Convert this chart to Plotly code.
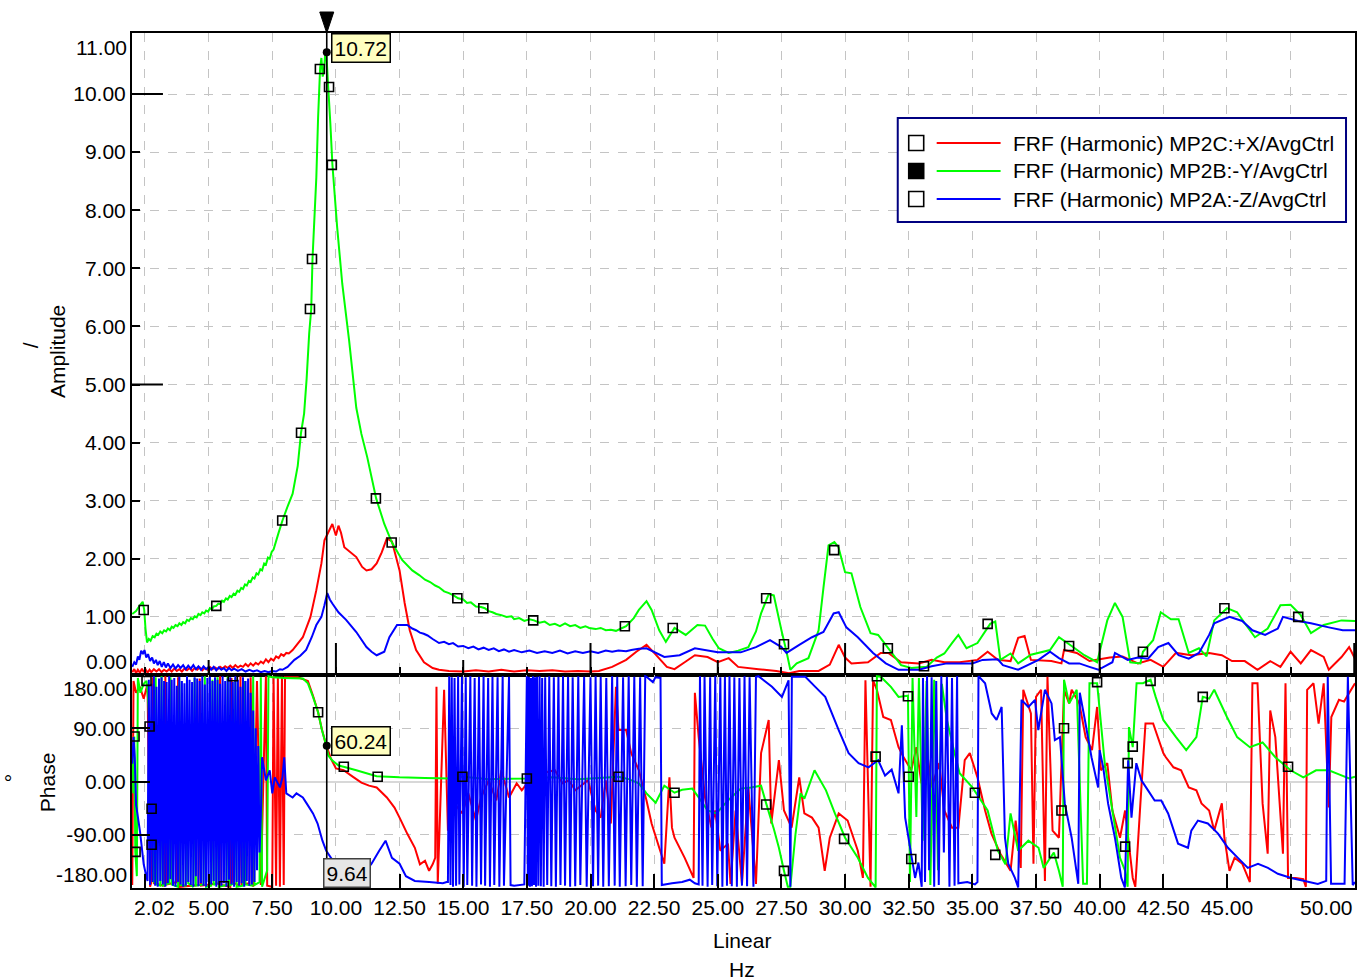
import plotly.graph_objects as go

FONT = "Liberation Sans, Arial, sans-serif"
FS = 21
RED, GREEN, BLUE = "#FF0000", "#00FF00", "#0000FF"

# ---------------- amplitude data (Hz, amplitude) ----------------
green_amp = [(2.00,1.05),(2.15,1.10),(2.30,1.20),(2.41,1.26),(2.47,1.12),(2.52,0.80),(2.58,0.56),
    (2.65,0.62),(2.72,0.59),(2.80,0.67),(2.88,0.65),(2.95,0.71),(3.02,0.69),(3.10,0.75),(3.18,0.72),(3.25,0.77),
    (3.33,0.75),(3.40,0.80),(3.48,0.77),(3.55,0.83),(3.62,0.81),(3.70,0.86),(3.78,0.84),(3.85,0.89),(3.93,0.86),
    (4.00,0.91),(4.08,0.89),(4.15,0.95),(4.23,0.93),(4.30,0.98),(4.38,0.96),(4.45,1.01),(4.53,0.99),(4.60,1.05),
    (4.68,1.03),(4.75,1.08),(4.83,1.06),(4.90,1.11),(4.98,1.09),(5.05,1.15),(5.13,1.13),(5.20,1.18),(5.30,1.19),
    (5.38,1.23),(5.45,1.22),(5.53,1.28),(5.60,1.26),(5.68,1.32),(5.75,1.30),(5.83,1.36),(5.90,1.34),(5.98,1.40),
    (6.05,1.38),(6.13,1.45),(6.20,1.43),(6.28,1.50),(6.35,1.48),(6.43,1.56),(6.50,1.54),(6.58,1.62),(6.65,1.60),
    (6.73,1.68),(6.80,1.66),(6.88,1.75),(6.95,1.73),(7.03,1.82),(7.10,1.80),(7.18,1.92),(7.25,1.90),(7.33,2.02),
    (7.40,2.00),(7.48,2.12),(7.55,2.16),(7.75,2.45),(7.90,2.66),(8.10,2.90),(8.30,3.12),(8.50,3.60),(8.63,4.17),
    (8.75,4.50),(8.85,5.10),(8.95,5.88),(9.03,6.30),(9.08,7.16),(9.23,8.56),(9.30,9.60),(9.38,10.45),(9.43,10.62),
    (9.48,10.30),(9.53,10.40),(9.58,10.70),(9.62,10.72),(9.70,10.10),(9.78,9.50),(9.86,8.80),(10.05,7.70),
    (10.25,6.73),(10.52,5.75),(10.80,4.60),(11.00,4.15),(11.23,3.75),(11.58,3.04),(11.90,2.60),(12.20,2.28),
    (12.60,1.98),(13.00,1.80),(13.27,1.72),(13.50,1.64),(13.70,1.60),(13.90,1.54),(14.05,1.51),(14.25,1.44),
    (14.44,1.41),(14.62,1.37),(14.80,1.32),(15.00,1.30),(15.15,1.24),(15.30,1.25),(15.50,1.18),(15.70,1.17),
    (15.85,1.15),(16.00,1.10),(16.15,1.08),(16.30,1.05),(16.50,1.03),(16.70,1.00),(16.90,1.01),(17.00,0.96),
    (17.20,0.98),(17.40,0.93),(17.60,0.96),(17.78,0.94),(18.00,0.90),(18.20,0.92),(18.40,0.86),(18.60,0.88),
    (18.80,0.84),(19.00,0.89),(19.20,0.84),(19.40,0.86),(19.60,0.81),(19.80,0.84),(19.95,0.81),(20.20,0.79),
    (20.40,0.81),(20.60,0.77),(20.80,0.78),(21.00,0.76),(21.20,0.80),(21.40,0.84),(21.70,0.98),(21.90,1.12),
    (22.20,1.27),(22.40,1.12),(22.70,0.77),(22.96,0.57),(23.30,0.81),(23.74,0.69),(24.20,0.86),(24.50,0.85),
    (24.80,0.62),(25.04,0.46),(25.43,0.38),(25.80,0.42),(26.20,0.48),(26.50,0.75),(26.70,1.06),(27.00,1.39),
    (27.20,1.37),(27.50,0.77),(27.70,0.40),(27.85,0.09),(28.10,0.20),(28.56,0.29),(28.96,0.77),(29.15,1.50),
    (29.35,2.23),(29.58,2.29),(29.74,2.20),(30.00,1.77),(30.25,1.75),(30.60,1.17),(31.00,0.72),(31.30,0.69),
    (31.70,0.46),(32.20,0.17),(32.60,0.12),(33.20,0.14),(33.60,0.30),(33.90,0.37),(34.20,0.55),(34.45,0.69),
    (34.77,0.46),(35.20,0.55),(35.70,0.88),(35.90,0.92),(36.10,0.26),(36.50,0.37),(36.80,0.20),(37.30,0.35),
    (38.05,0.43),(38.40,0.65),(38.90,0.50),(39.40,0.34),(39.90,0.22),(40.30,0.94),(40.60,1.24),(40.90,1.00),
    (41.20,0.22),(41.60,0.20),(41.70,0.40),(42.10,0.60),(42.40,1.08),(42.80,0.96),(43.10,0.96),(43.50,0.38),
    (43.90,0.46),(44.20,0.32),(44.50,0.94),(45.00,1.15),(45.40,1.08),(45.70,0.89),(46.10,0.65),(46.60,0.80),
    (47.10,1.20),(47.50,1.21),(47.90,1.03),(48.30,0.72),(48.80,0.86),(49.50,0.94),(50.03,0.93)]

red_amp = [(2.00,0.05),(2.08,0.10),(2.15,0.03),(2.22,0.09),(2.30,0.04),(2.38,0.11),(2.45,0.05),(2.52,0.10),
    (2.60,0.04),(2.68,0.09),(2.75,0.05),(2.85,0.10),(2.95,0.06),(3.05,0.10),(3.15,0.05),(3.25,0.09),(3.35,0.06),
    (3.45,0.10),(3.55,0.06),(3.65,0.11),(3.75,0.07),(3.85,0.10),(3.95,0.06),(4.05,0.11),(4.15,0.08),(4.25,0.12),
    (4.35,0.07),(4.45,0.12),(4.55,0.09),(4.65,0.13),(4.75,0.08),(4.85,0.12),(4.95,0.09),(5.05,0.14),(5.15,0.10),
    (5.25,0.13),(5.35,0.10),(5.45,0.14),(5.55,0.11),(5.65,0.15),(5.75,0.12),(5.85,0.16),(5.95,0.12),(6.05,0.17),
    (6.15,0.13),(6.25,0.16),(6.35,0.14),(6.45,0.19),(6.55,0.15),(6.65,0.20),(6.75,0.16),(6.85,0.21),(6.95,0.18),
    (7.05,0.23),(7.15,0.20),(7.25,0.27),(7.35,0.22),(7.45,0.28),(7.55,0.25),(7.65,0.32),(7.75,0.29),(7.85,0.36),
    (7.95,0.33),(8.05,0.38),(8.15,0.37),(8.30,0.43),(8.70,0.65),(9.00,1.00),(9.23,1.46),(9.43,1.92),(9.55,2.32),
    (9.75,2.50),(9.86,2.60),(10.00,2.40),(10.10,2.57),(10.20,2.45),(10.33,2.20),(10.80,2.03),(11.03,1.86),
    (11.20,1.80),(11.40,1.82),(11.60,1.92),(11.80,2.11),(12.00,2.35),(12.20,2.30),(12.50,1.80),(12.70,1.24),
    (12.90,0.77),(13.15,0.43),(13.46,0.22),(13.80,0.12),(14.05,0.09),(14.44,0.07),(15.00,0.06),(15.50,0.08),
    (16.00,0.06),(16.50,0.09),(17.00,0.06),(17.50,0.08),(18.00,0.07),(18.50,0.08),(19.00,0.06),(19.50,0.07),
    (20.00,0.06),(20.33,0.07),(20.85,0.14),(21.40,0.26),(21.80,0.40),(22.20,0.52),(22.50,0.38),(23.00,0.14),
    (23.30,0.10),(23.70,0.22),(24.10,0.34),(24.60,0.31),(25.00,0.22),(25.43,0.29),(25.80,0.14),(26.60,0.10),
    (27.30,0.07),(27.80,0.03),(28.20,0.07),(28.96,0.07),(29.40,0.18),(29.75,0.52),(30.00,0.30),(30.25,0.20),
    (30.90,0.22),(31.40,0.38),(31.70,0.38),(32.20,0.22),(32.90,0.20),(33.40,0.26),(33.90,0.22),(34.50,0.22),
    (35.20,0.26),(35.60,0.40),(36.00,0.26),(36.50,0.24),(36.80,0.64),(37.05,0.67),(37.30,0.26),(38.10,0.24),
    (38.50,0.20),(38.60,0.43),(39.10,0.38),(39.60,0.24),(40.40,0.30),(40.90,0.32),(41.50,0.20),(42.00,0.26),
    (42.50,0.14),(43.00,0.38),(43.60,0.34),(44.30,0.38),(44.80,0.34),(45.20,0.24),(45.70,0.24),(46.20,0.09),
    (46.70,0.24),(47.10,0.14),(47.50,0.40),(47.90,0.20),(48.30,0.43),(48.80,0.31),(49.00,0.09),(49.50,0.31),
    (49.80,0.48),(50.03,0.28)]

blue_amp = [(2.00,0.14),(2.08,0.22),(2.15,0.18),(2.22,0.32),(2.28,0.26),(2.35,0.42),(2.42,0.36),(2.48,0.43),
    (2.55,0.30),(2.62,0.36),(2.70,0.24),(2.78,0.30),(2.85,0.20),(2.93,0.26),(3.00,0.17),(3.08,0.24),(3.16,0.14),
    (3.24,0.22),(3.32,0.13),(3.40,0.20),(3.50,0.12),(3.60,0.18),(3.70,0.11),(3.80,0.17),(3.90,0.12),(4.00,0.17),
    (4.10,0.10),(4.20,0.16),(4.30,0.11),(4.40,0.17),(4.50,0.10),(4.60,0.15),(4.70,0.09),(4.80,0.15),(4.90,0.10),
    (5.00,0.14),(5.10,0.09),(5.20,0.14),(5.30,0.08),(5.40,0.13),(5.50,0.09),(5.60,0.12),(5.70,0.07),(5.80,0.12),
    (5.90,0.08),(6.00,0.11),(6.15,0.07),(6.30,0.10),(6.45,0.06),(6.60,0.09),(6.75,0.06),(6.90,0.08),(7.05,0.05),
    (7.20,0.07),(7.35,0.05),(7.50,0.07),(7.65,0.06),(7.80,0.10),(7.90,0.09),(8.10,0.14),(8.37,0.26),(8.60,0.33),
    (8.83,0.43),(9.05,0.65),(9.23,0.86),(9.43,1.00),(9.55,1.20),(9.66,1.41),(9.76,1.30),(9.86,1.23),(10.10,1.08),
    (10.40,0.95),(10.80,0.74),(11.20,0.48),(11.40,0.40),(11.60,0.34),(11.90,0.40),(12.10,0.65),(12.40,0.86),
    (12.80,0.86),(13.00,0.80),(13.15,0.77),(13.30,0.73),(13.45,0.71),(13.60,0.68),(13.80,0.62),(14.05,0.55),
    (14.25,0.57),(14.44,0.53),(14.60,0.55),(14.80,0.49),(15.00,0.50),(15.20,0.46),(15.40,0.49),(15.60,0.44),
    (15.80,0.47),(16.00,0.43),(16.20,0.46),(16.40,0.41),(16.60,0.44),(16.80,0.40),(17.00,0.43),(17.30,0.39),
    (17.60,0.42),(17.90,0.38),(18.20,0.41),(18.50,0.38),(18.80,0.42),(19.10,0.37),(19.40,0.41),(19.70,0.38),
    (20.00,0.41),(20.30,0.38),(20.60,0.42),(20.85,0.40),(21.10,0.42),(21.40,0.41),(21.60,0.43),(21.90,0.45),
    (22.20,0.46),(22.90,0.31),(23.50,0.34),(24.10,0.46),(25.00,0.39),(25.90,0.39),(26.50,0.48),(27.05,0.60),
    (27.50,0.48),(27.70,0.38),(28.20,0.52),(28.70,0.65),(29.15,0.74),(29.55,1.06),(29.75,1.08),(30.05,0.82),
    (30.50,0.65),(31.10,0.38),(31.60,0.20),(32.10,0.09),(32.90,0.09),(33.40,0.15),(34.00,0.20),(35.00,0.20),
    (35.40,0.26),(36.00,0.27),(36.20,0.17),(36.80,0.09),(37.60,0.26),(38.05,0.40),(38.40,0.29),(38.80,0.20),
    (39.20,0.20),(39.60,0.14),(39.95,0.09),(40.50,0.22),(40.60,0.38),(41.10,0.26),(41.50,0.30),(41.90,0.28),
    (42.30,0.48),(42.70,0.55),(43.10,0.34),(43.50,0.28),(43.90,0.38),(44.30,0.69),(44.50,0.89),(45.10,1.00),
    (45.60,0.93),(46.00,0.77),(46.50,0.69),(47.00,0.80),(47.20,1.00),(47.80,0.93),(48.30,0.89),(49.00,0.82),
    (49.55,0.77),(50.03,0.77)]

# ---------------- phase data (Hz, degrees) ----------------
green_phase_low = [(2.00,60),(2.04,-20),(2.08,76),(2.12,-119),(2.18,-160),(2.22,175),(2.32,150),(2.45,165),
    (2.56,170),(2.62,140),(2.68,93),(2.72,20),(2.76,-46),(2.80,-107),(2.86,-172),(2.92,176),(2.97,-174),
    (3.10,-176),(3.15,178),(3.20,-176),(3.45,-172),(3.50,176),(3.55,-174),(3.80,-178),(3.85,170),(3.90,-175),
    (4.10,-176),(4.15,178),(4.20,-172),(4.40,-178),(4.45,175),(4.50,-176),(4.80,-174),(4.85,178),(4.90,-178),
    (5.10,-176),(5.15,172),(5.20,-175),(5.30,-172),(5.35,176),(5.40,-178),(5.70,-175),(5.75,178),(5.80,-176),
    (6.00,-172),(6.05,175),(6.10,-178),(6.35,-176),(6.40,170),(6.45,-174),(6.70,-176),(6.75,178),(6.80,-175),
    (7.00,-170),(7.05,176),(7.10,-178),(7.30,-150),(7.35,178),(7.50,176)]
green_phase_main = [(8.00,175),(8.70,174),(8.90,166),(9.10,143),(9.30,117),(9.45,87),(9.60,64),(9.70,44),
    (9.85,36),(10.10,27),(10.30,25),(10.80,19),(11.60,9),(12.50,7),(13.50,6),(14.50,5),(15.00,8),(16.00,4),
    (17.50,5),(18.50,7),(19.50,4),(20.00,5),(21.10,8),(21.50,4),(21.90,-3),(22.20,-20),(22.56,-36),(22.90,-7),
    (23.30,-19),(23.60,-14),(24.00,-12),(24.30,-30),(24.60,-49),(24.95,-54),(25.40,-32),(25.90,-12),(26.30,-10),
    (26.70,-7),(26.90,-37),(27.20,-80),(27.40,-112),(27.60,-151),(27.75,-178),(27.85,-178),(28.05,-90),
    (28.25,-20),(28.40,-29),(28.80,19),(29.25,-15),(29.60,-54),(30.00,-95),(30.50,-129),(30.90,-163),
    (31.20,-179),(31.25,178),(31.40,177),(31.80,160),(32.10,143),(32.47,145),(32.55,-170),(32.65,175),
    (32.80,-60),(32.90,175),(33.05,-100),(33.20,170),(33.35,-175),(33.50,172),(33.65,-150),(33.80,165),
    (34.00,104),(34.30,48),(34.50,14),(35.00,-10),(35.60,-49),(36.00,-117),(36.30,-140),(36.50,-54),
    (36.80,-117),(37.20,-100),(37.60,-112),(37.80,-146),(38.20,-120),(38.40,-151),(38.55,-178),(38.60,172),
    (38.80,132),(39.10,155),(39.35,-173),(39.50,-173),(39.60,166),(39.90,166),(40.20,31),(40.50,-49),
    (40.80,-129),(41.00,-151),(41.10,-178),(41.15,92),(41.30,58),(41.45,166),(41.70,166),(42.00,172),
    (42.20,143),(42.50,104),(43.00,75),(43.40,53),(43.80,75),(44.05,143),(44.30,140),(44.50,155),(45.00,109),
    (45.40,75),(45.90,58),(46.40,66),(46.90,41),(47.50,19),(48.00,7),(48.50,19),(49.00,19),(49.40,12),
    (49.80,5),(50.03,8)]

red_phase_low = [(2.00,-175),(2.05,170),(2.15,150),(2.30,160),(2.45,140),(2.60,165),(2.70,-178),(2.75,-170),
    (2.80,176),(2.85,-172),(3.25,-176),(3.30,178),(3.35,-174),(3.75,-170),(3.80,176),(3.85,-178),(4.60,-175),
    (4.65,174),(4.70,-176),(5.40,-172),(5.45,178),(5.50,-175),(5.85,-178),(5.90,175),(5.95,-170),(6.20,-176),
    (6.25,178),(6.30,-174),(6.60,-172),(6.65,176),(6.75,-178),(6.90,170),(7.05,-175),(7.25,178),(7.30,-176),
    (7.50,-178),(7.55,178),(7.65,-176),(7.72,176),(7.80,-178),(7.88,177),(7.95,-175),(8.00,176)]
red_phase_main = [(8.50,176),(8.90,170),(9.10,145),(9.30,117),(9.45,88),(9.60,64),(9.80,39),(10.00,22),
    (10.30,19),(10.70,7),(11.00,-2),(11.30,-7),(11.60,-10),(12.00,-27),(12.30,-44),(12.50,-61),(12.80,-88),
    (13.10,-112),(13.30,-140),(13.50,-134),(13.66,-151),(13.80,-140),(13.90,-129),(13.95,160),(14.00,-173),
    (14.25,155),(14.40,-83),(14.45,-27),(14.97,-54),(15.20,-20),(15.50,-66),(15.70,-27),(16.00,2),(16.30,-32),
    (16.50,19),(16.80,-27),(17.10,-3),(17.30,-15),(17.60,2),(18.10,14),(18.60,19),(18.90,-3),(19.15,2),
    (19.40,-15),(19.90,2),(20.20,-49),(20.40,-61),(20.60,2),(20.80,-71),(21.00,160),(21.10,87),(21.40,87),
    (21.60,48),(21.90,19),(22.20,-32),(22.40,-71),(22.70,-112),(22.90,-139),(23.10,7),(23.20,-78),(23.30,-95),
    (23.70,-129),(24.05,-163),(24.10,150),(24.25,75),(24.50,-27),(24.75,-78),(24.90,-49),(25.10,-117),
    (25.40,-105),(25.50,-173),(25.70,-49),(25.95,-173),(26.20,-10),(26.50,-173),(26.70,48),(27.00,104),
    (27.10,-71),(27.40,36),(27.60,-49),(27.90,-78),(28.20,7),(28.40,-54),(28.70,-61),(28.96,-78),(29.20,-151),
    (29.40,-95),(29.75,-54),(30.10,-66),(30.50,-117),(30.70,-163),(30.80,171),(31.00,-178),(31.10,171),
    (31.25,155),(31.50,109),(31.80,104),(32.10,58),(32.30,41),(32.60,19),(32.80,58),(33.00,-3),(33.20,58),
    (33.40,-10),(33.70,31),(33.90,-49),(34.20,-78),(34.45,-78),(34.70,36),(34.90,48),(35.20,7),(35.50,-49),
    (35.75,-88),(36.10,-122),(36.50,-151),(36.70,-66),(36.90,-146),(37.00,155),(37.30,115),(37.40,-139),
    (37.50,143),(37.70,155),(37.85,-168),(37.95,177),(38.15,-83),(38.40,-95),(38.60,155),(38.80,132),
    (38.90,155),(39.20,132),(39.45,75),(39.70,53),(39.90,126),(40.05,19),(40.30,31),(40.50,-49),(40.80,-95),
    (41.00,-49),(41.30,-163),(41.40,-178),(41.60,-37),(41.80,98),(42.10,98),(42.50,48),(42.60,41),(42.90,24),
    (43.20,19),(43.50,-10),(43.80,-15),(44.00,-37),(44.30,-49),(44.50,-83),(44.80,-37),(44.90,-95),
    (45.10,-151),(45.30,-129),(45.60,-139),(45.90,-170),(46.00,166),(46.20,166),(46.40,-37),(46.60,-122),
    (46.70,120),(46.90,75),(47.20,-122),(47.30,166),(47.40,-163),(47.70,-163),(48.00,-165),(48.10,-178),
    (48.15,155),(48.40,166),(48.60,98),(48.80,166),(49.00,-44),(49.10,109),(49.40,138),(49.60,135),(50.03,166)]

blue_phase_a = [(2.00,30),(2.05,75),(2.10,40),(2.15,-40),(2.20,-54),(2.30,-83),(2.45,-140),(2.55,-160),(2.60,-168)]
blue_phase_wrap1 = [(2.65,172),(2.70,-175),(2.75,165),(2.80,-170),(2.85,178),(2.90,-176),(2.95,160),(3.00,-178),
    (3.05,174),(3.10,-168),(3.15,176),(3.20,-174),(3.25,170),(3.30,-178),(3.35,168),(3.40,-172),(3.45,178),
    (3.50,-165),(3.55,172),(3.60,-176),(3.65,175),(3.70,-178),(3.75,162),(3.80,-170),(3.85,177),(3.90,-174),
    (3.95,170),(4.00,-178),(4.05,166),(4.10,-176),(4.15,178),(4.20,-170),(4.25,172),(4.30,-175),(4.35,168),
    (4.40,-178),(4.45,176),(4.50,-160),(4.55,174),(4.60,-177),(4.65,170),(4.70,-172),(4.75,178),(4.80,-176),
    (4.85,164),(4.90,-178),(4.95,175),(5.00,-170),(5.05,177),(5.10,-174),(5.15,170),(5.20,-168),(5.25,176),
    (5.30,-178),(5.35,172),(5.40,-175),(5.45,165),(5.50,-176),(5.55,178),(5.60,-172),(5.65,170),(5.70,-178),
    (5.75,174),(5.80,-166),(5.85,176),(5.90,-174),(5.95,168),(6.00,-178),(6.05,178),(6.10,-170),(6.15,172),
    (6.20,-176),(6.25,160),(6.30,-172),(6.35,176),(6.40,-178),(6.45,170),(6.50,-168),(6.55,174),(6.60,-176),
    (6.65,150),(6.70,-174),(6.75,120),(6.80,-170),(6.85,90),(6.90,-150),(6.95,60)]
blue_phase_b = [(7.00,-120),(7.05,-60),(7.10,41),(7.25,2),(7.40,19),(7.50,-20),(7.60,7),(7.80,-10),(7.90,7),
    (7.97,41),(8.05,-20),(8.30,-27),(8.45,-20),(8.70,-27),(8.85,-37),(9.10,-54),(9.28,-71),(9.47,-100),
    (9.62,-117),(9.90,-135),(10.30,-155),(10.80,-165),(11.10,-155),(11.40,-139),(11.70,-117),(11.95,-100),
    (12.20,-129),(12.50,-139),(12.75,-160),(13.10,-168),(13.66,-170),(14.20,-172),(14.35,-170)]
blue_phase_wrap2 = [(14.40,-170),(14.45,178),(14.50,-175),(14.55,176),(14.60,-178),(14.66,175),(14.72,-176),
    (14.80,178),(14.85,-174),(14.95,177),(15.02,-178),(15.10,176),(15.16,-175),(15.28,178),(15.35,-176),
    (15.45,175),(15.52,-178),(15.62,177),(15.70,-174),(15.80,178),(15.86,-176),(15.98,175),(16.05,-178),
    (16.15,177),(16.22,-175),(16.35,176),(16.42,-178),(16.55,178),(16.60,-176),(16.80,177),(16.86,-175),
    (17.00,-176),(17.40,-174)]
blue_phase_wrap3 = [(17.50,178),(17.54,-176),(17.58,177),(17.62,-178),(17.66,175),(17.70,-177),(17.74,178),
    (17.78,-175),(17.82,176),(17.86,-178),(17.90,177),(17.95,-176),(18.00,178),(18.05,-177),(18.10,175),
    (18.16,-178),(18.22,176),(18.30,-175),(18.38,178),(18.46,-177),(18.56,176),(18.64,-178),(18.74,177),
    (18.82,-175),(18.92,178),(19.00,-176),(19.12,177),(19.20,-178),(19.30,176),(19.40,-177),(19.52,178),
    (19.60,-175),(19.75,177),(19.85,-178),(20.00,176),(20.10,-177),(20.20,178),(20.30,-176),(20.40,177),
    (20.50,-178),(20.62,175),(20.72,-177),(20.85,178),(20.95,-176),(21.05,177),(21.15,-178),(21.28,176),
    (21.38,-177),(21.50,178),(21.60,-175),(21.72,177),(21.82,-178),(21.95,176),(22.05,-177),(22.15,178)]
blue_phase_c = [(22.20,177),(22.45,168),(22.55,176),(22.75,175),(22.80,-175),(23.20,-172),(23.60,-170),
    (23.90,-166),(24.10,-172),(24.25,-174)]
blue_phase_wrap4 = [(24.30,178),(24.40,-176),(24.48,177),(24.60,-178),(24.70,176),(24.78,-175),(24.90,178),
    (24.98,-177),(25.10,176),(25.18,-178),(25.28,177),(25.36,-176),(25.46,178),(25.55,-177),(25.65,176),
    (25.75,-178),(25.85,175),(25.95,-176),(26.05,178),(26.15,-177),(26.25,176),(26.40,-178),(26.50,177),
    (26.60,178)]
blue_phase_d = [(27.13,160),(27.52,143),(27.78,171),(27.85,-178),(27.91,177),(28.44,177),(28.83,160),
    (29.22,143),(29.75,87),(30.14,48),(30.53,31),(30.92,24),(31.30,36),(31.57,10),(31.83,20),(32.10,-20),
    (32.23,95),(32.36,-61),(32.62,-129),(32.75,-163),(32.88,-137)]
blue_phase_wrap5 = [(33.01,-178),(33.06,175),(33.14,-170),(33.22,178),(33.30,-150),(33.40,176),(33.50,-178),
    (33.58,170),(33.68,-175),(33.78,178),(33.88,-120),(34.00,177),(34.10,-178),(34.20,175),(34.30,-176),
    (34.40,178),(34.45,-172)]
blue_phase_e = [(34.80,-170),(35.10,-174),(35.20,-170),(35.24,178),(35.50,166),(35.76,115),(35.95,104),
    (36.15,126),(36.28,-95),(36.41,-139),(36.67,-163),(36.80,-179),(36.93,138),(37.20,126),(37.46,138),
    (37.59,87),(37.85,155),(38.11,132),(38.24,70),(38.44,75),(38.63,-37),(38.90,-95),(39.16,-173),(39.22,150),
    (39.42,104),(39.68,41),(39.94,-10),(40.00,53),(40.14,24),(40.33,-37),(40.60,-95),(40.85,-163),(40.99,-179),
    (41.12,36),(41.25,-61),(41.44,31),(41.64,2),(41.90,-15),(42.16,-32),(42.42,-32),(42.69,-54),(43.08,-105),
    (43.47,-112),(43.60,-83),(43.86,-66),(44.25,-71),(44.65,-88),(45.04,-112),(45.43,-129),(45.82,-146),
    (46.22,-139),(46.61,-146),(47.00,-156),(47.52,-163),(48.05,-168),(48.57,-173),(48.90,-168),(48.96,177),
    (49.09,-173),(49.62,-173),(49.75,177),(49.94,-175),(50.03,-170)]

# ---------------- markers on the active (green) trace ----------------
amp_markers = [(2.45,1.12),(5.30,1.19),(7.89,2.66),(8.63,4.17),(8.98,6.30),(9.06,7.16),(9.37,10.43),
    (9.73,10.12),(9.84,8.78),(11.57,3.04),(12.19,2.28),(14.77,1.32),(15.79,1.15),(17.75,0.94),(21.35,0.84),
    (23.23,0.81),(26.90,1.32),(27.60,0.53),(29.57,2.15),(31.68,0.46),(33.10,0.15),(35.60,0.88),(38.80,0.50),
    (41.70,0.40),(44.90,1.15),(47.80,1.00)]
phase_markers = [(2.09,76),(2.56,170),(2.68,93),(2.76,-46),(2.76,-107),(2.13,-119),(5.60,-177),(5.95,178),
    (9.30,117),(10.31,25),(11.64,8),(14.97,8),(17.50,5),(21.10,8),(23.30,-19),(26.90,-39),(27.60,-151),
    (29.96,-97),(31.20,42),(31.25,178),(32.47,144),(32.50,8),(32.60,-131),(35.10,-19),(35.90,-124),(38.20,-121),
    (38.50,-49),(38.60,90),(39.90,168),(41.00,-110),(41.10,31),(41.30,59),(42.00,170),(44.05,143),(47.40,25)]

# ---------------- axes / labels ----------------
x_grid_vals = [2.5,5,7.5,10,12.5,15,17.5,20,22.5,25,27.5,30,32.5,35,37.5,40,42.5,45,47.5,50]
x_tick_text = ["","5.00","7.50","10.00","12.50","15.00","17.50","20.00","22.50","25.00","27.50","30.00",
               "32.50","35.00","37.50","40.00","42.50","45.00","",""]
x_range = [1.99, 50.03]
x_first_label, x_last_label = "2.02", "50.00"
amp_ticks = [1,2,3,4,5,6,7,8,9,10]
amp_range = [0, 11.05]
phase_ticks = [-90, 0, 90]
phase_range = [-180, 180]
legend_names = ["FRF (Harmonic) MP2C:+X/AvgCtrl", "FRF (Harmonic) MP2B:-Y/AvgCtrl", "FRF (Harmonic) MP2A:-Z/AvgCtrl"]
legend_colors = [RED, GREEN, BLUE]
legend_filled = [False, True, False]
cursor_freq, cursor_amp, cursor_phase = 9.64, 10.72, 60.24

# pixel layout of the plot frame
W, H = 1358, 980
L, R, T, B, SPLIT = 132, 1357, 33, 888, 675
def px(xp): return (xp - L) / (R - L)
def py(yp): return (B - yp) / (B - T)
split = py(SPLIT)

def unzip(pts):
    return [p[0] for p in pts], [p[1] for p in pts]

fig = go.Figure()
LW = 2.0
for pts, c in [(red_amp, RED), (green_amp, GREEN), (blue_amp, BLUE)]:
    xs, ys = unzip(pts)
    fig.add_trace(go.Scatter(x=xs, y=ys, mode="lines", line=dict(color=c, width=LW, simplify=False),
                             xaxis="x", yaxis="y", showlegend=False, hoverinfo="skip"))
phase_series = [
    (red_phase_low + red_phase_main, RED),
    (green_phase_low + green_phase_main, GREEN),
    (blue_phase_a + blue_phase_wrap1 + blue_phase_b + blue_phase_wrap2 + blue_phase_wrap3 + blue_phase_c
     + blue_phase_wrap4 + blue_phase_d + blue_phase_wrap5 + blue_phase_e, BLUE),
]
for pts, c in phase_series:
    xs, ys = unzip(pts)
    fig.add_trace(go.Scatter(x=xs, y=ys, mode="lines", line=dict(color=c, width=LW, simplify=False),
                             xaxis="x2", yaxis="y2", showlegend=False, hoverinfo="skip"))

mk = dict(symbol="square-open", size=9, color="black", line=dict(width=1.6, color="black"))
xs, ys = unzip(amp_markers)
fig.add_trace(go.Scatter(x=xs, y=ys, mode="markers", marker=mk, xaxis="x", yaxis="y",
                         showlegend=False, hoverinfo="skip"))
xs, ys = unzip(phase_markers)
fig.add_trace(go.Scatter(x=xs, y=ys, mode="markers", marker=mk, xaxis="x2", yaxis="y2",
                         showlegend=False, hoverinfo="skip"))

# cursor dots
fig.add_trace(go.Scatter(x=[cursor_freq], y=[cursor_amp], mode="markers",
                         marker=dict(symbol="circle", size=8, color="black"),
                         xaxis="x", yaxis="y", showlegend=False, hoverinfo="skip"))
fig.add_trace(go.Scatter(x=[cursor_freq], y=[cursor_phase], mode="markers",
                         marker=dict(symbol="circle", size=8, color="black"),
                         xaxis="x2", yaxis="y2", showlegend=False, hoverinfo="skip"))

shapes = []
shapes.append(dict(type="line", xref="x", yref="paper", x0=cursor_freq, x1=cursor_freq, y0=0, y1=1,
                   line=dict(color="black", width=1.6)))
# cursor triangle above the frame (pixel-sized, anchored on the cursor)
shapes.append(dict(type="path", xref="x", yref="paper", xsizemode="pixel", ysizemode="pixel",
                   xanchor=cursor_freq, yanchor=1, path="M -7,21 L 7,21 L 0,0 Z",
                   fillcolor="black", line=dict(color="black", width=1)))
# long tick marks
for v in [5, 10]:
    shapes.append(dict(type="line", xref="paper", yref="y", x0=0, x1=px(L + 31), y0=v, y1=v,
                       line=dict(color="black", width=2)))
for v in x_grid_vals:
    if v % 10 == 0:
        ln = 32
    elif v % 5 == 0:
        ln = 15
    else:
        continue
    shapes.append(dict(type="line", xref="x", yref="paper", x0=v, x1=v, y0=split, y1=py(SPLIT - ln),
                       line=dict(color="black", width=2)))

# legend box
shapes.append(dict(type="rect", xref="paper", yref="paper", x0=px(899), x1=px(1348), y0=py(222), y1=py(118),
                   line=dict(color="#000080", width=2), fillcolor="white", layer="above"))
annotations = []
rows = [143, 171, 199]
for name, c, filled, ry in zip(legend_names, legend_colors, legend_filled, rows):
    shapes.append(dict(type="rect", xref="paper", yref="paper", x0=px(910), x1=px(925), y0=py(ry + 7.5),
                       y1=py(ry - 7.5), line=dict(color="black", width=1.6),
                       fillcolor="black" if filled else "white", layer="above"))
    shapes.append(dict(type="line", xref="paper", yref="paper", x0=px(938), x1=px(1002), y0=py(ry), y1=py(ry),
                       line=dict(color=c, width=1.8), layer="above"))
    annotations.append(dict(text=name, xref="paper", yref="paper", x=px(1012), y=py(ry), xanchor="left",
                            yanchor="middle", showarrow=False, font=dict(family=FONT, size=FS, color="black")))

# cursor value boxes
annotations.append(dict(text=f"{cursor_amp:.2f}", xref="x", yref="y", x=cursor_freq, y=cursor_amp,
                        xanchor="left", yanchor="middle", xshift=4, yshift=4, showarrow=False,
                        bgcolor="#FFFFC0", bordercolor="black", borderwidth=1.5, borderpad=2,
                        font=dict(family=FONT, size=FS, color="black")))
annotations.append(dict(text=f"{cursor_phase:.2f}", xref="x2", yref="y2", x=cursor_freq, y=cursor_phase,
                        xanchor="left", yanchor="middle", xshift=4, yshift=5, showarrow=False,
                        bgcolor="#FFFFC0", bordercolor="black", borderwidth=1.5, borderpad=2,
                        font=dict(family=FONT, size=FS, color="black")))
annotations.append(dict(text=f"{cursor_freq:.2f}", xref="x2", yref="y2", x=cursor_freq, y=phase_range[0],
                        xanchor="left", yanchor="bottom", xshift=-4, showarrow=False,
                        bgcolor="#E6E6E6", bordercolor="#404040", borderwidth=1.5, borderpad=2,
                        font=dict(family=FONT, size=FS, color="black")))

# edge tick labels (drawn inward like the original)
tf = dict(family=FONT, size=FS, color="black")
annotations += [
    dict(text="11.00", xref="paper", yref="y", x=0, y=11, xanchor="right", yanchor="top", xshift=-3,
         yshift=2, showarrow=False, font=tf),
    dict(text="0.00", xref="paper", yref="y", x=0, y=0, xanchor="right", yanchor="bottom", xshift=-3,
         showarrow=False, font=tf),
    dict(text="180.00", xref="paper", yref="y2", x=0, y=180, xanchor="right", yanchor="top", xshift=-3,
         showarrow=False, font=tf),
    dict(text="-180.00", xref="paper", yref="y2", x=0, y=-180, xanchor="right", yanchor="bottom", xshift=-3,
         showarrow=False, font=tf),
    dict(text=x_first_label, xref="x2", yref="paper", x=x_range[0], y=0, xanchor="left", yanchor="top",
         yshift=-6, showarrow=False, font=tf),
    dict(text=x_last_label, xref="x2", yref="paper", x=x_range[1], y=0, xanchor="right", yanchor="top",
         yshift=-6, showarrow=False, font=tf),
    # axis titles
    dict(text="Linear", xref="paper", yref="paper", x=px(743), y=py(940), xanchor="center", yanchor="middle",
         showarrow=False, font=tf),
    dict(text="Hz", xref="paper", yref="paper", x=px(743), y=py(970), xanchor="center", yanchor="middle",
         showarrow=False, font=tf),
    dict(text="Amplitude", xref="paper", yref="paper", x=px(57), y=py(352), textangle=-90, xanchor="center",
         yanchor="middle", showarrow=False, font=tf),
    dict(text="/", xref="paper", yref="paper", x=px(30), y=py(345), textangle=-90, xanchor="center",
         yanchor="middle", showarrow=False, font=tf),
    dict(text="Phase", xref="paper", yref="paper", x=px(47), y=py(782), textangle=-90, xanchor="center",
         yanchor="middle", showarrow=False, font=tf),
    dict(text="°", xref="paper", yref="paper", x=px(12), y=py(778), textangle=-90, xanchor="center",
         yanchor="middle", showarrow=False, font=tf),
]

grid = dict(showgrid=True, gridcolor="#C4C4C4", griddash="dash", gridwidth=1.3)
axis_line = dict(showline=True, linecolor="black", linewidth=2, mirror=True, tickcolor="black", tickwidth=2)

fig.update_layout(
    width=W, height=H, margin=dict(l=L, r=W - R, t=T, b=H - B),
    paper_bgcolor="white", plot_bgcolor="white", showlegend=False,
    font=dict(family=FONT, size=FS, color="black"),
    xaxis=dict(domain=[0, 1], anchor="y", range=x_range, tickvals=x_grid_vals, showticklabels=False,
               ticks="inside", ticklen=8, zeroline=False, matches="x2", **grid, **axis_line),
    yaxis=dict(domain=[split, 1], anchor="x", range=amp_range, tickvals=amp_ticks,
               ticktext=[f"{v:.2f}" for v in amp_ticks], ticks="inside", ticklen=8, zeroline=False,
               tickfont=tf, **grid, **axis_line),
    xaxis2=dict(domain=[0, 1], anchor="y2", range=x_range, tickvals=x_grid_vals, ticktext=x_tick_text,
                ticks="inside", ticklen=14, zeroline=False, tickfont=tf, ticklabelstandoff=0,
                **grid, **axis_line),
    yaxis2=dict(domain=[0, split], anchor="x2", range=phase_range, tickvals=phase_ticks,
                ticktext=[f"{v:.2f}" for v in phase_ticks], ticks="inside", ticklen=18, zeroline=True,
                zerolinecolor="#D8D8D8", zerolinewidth=1.5, tickfont=tf, **grid, **axis_line),
    shapes=shapes, annotations=annotations,
)

fig.write_html("out.html", config={"displayModeBar": False},
               post_script="document.body.style.margin='0';document.body.style.overflow='hidden';")
